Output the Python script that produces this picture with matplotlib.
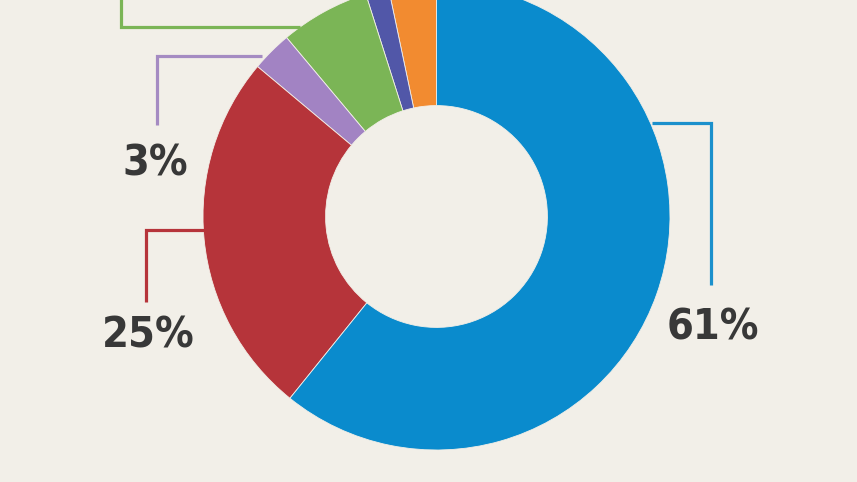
import matplotlib
matplotlib.use("Agg")
import matplotlib.pyplot as plt

names = ["orange", "dark blue", "green", "purple", "red", "blue"]
shares = [3.3, 1.6, 6.2, 2.8, 25.3, 60.8]
colours = ["#F28B30", "#5157A8", "#7BB556", "#A283C3", "#B6343A", "#0A8BCD"]

# visible labels
label_text = ["3%", "25%", "61%"]
label_pos = [(155, 164), (148, 335), (713, 328)]

bg = "#F2EFE8"
W, H = 857, 482

fig = plt.figure(figsize=(W / 100, H / 100), dpi=100, facecolor=bg)
ax = fig.add_axes([0, 0, 1, 1])
ax.set_facecolor(bg)

cx, cy = 436.5, H - 216.5
R = 233.5
ax.pie(shares, colors=colours, startangle=90, counterclock=True,
       center=(cx, cy), radius=R,
       wedgeprops=dict(width=R * 0.525, edgecolor=bg, linewidth=0.6))

def px(pts):
    # picture pixels -> data coords (y up)
    return [p[0] for p in pts], [H - p[1] for p in pts]

# callout lines
leaders = [
    ("#7BB556", [(300, 27), (121, 27), (121, -5)]),
    ("#A58BC2", [(262, 56), (157, 56), (157, 125)]),
    ("#B6343A", [(204, 230), (146, 230), (146, 302)]),
    ("#1B90CC", [(652, 123), (711, 123), (711, 285)]),
]
for c, pts in leaders:
    xs, ys = px(pts)
    ax.plot(xs, ys, color=c, lw=2.3, solid_capstyle="butt",
            solid_joinstyle="miter")

for t, (x, y) in zip(label_text, label_pos):
    ax.text(x, H - y, t, ha="center", va="center", fontsize=31,
            fontweight="bold", fontstretch="condensed", color="#383838",
            family=["DejaVu Sans"])

ax.set_xlim(0, W)
ax.set_ylim(0, H)
ax.set_aspect("auto")
ax.axis("off")

fig.savefig("out.png", dpi=100, facecolor=bg)
